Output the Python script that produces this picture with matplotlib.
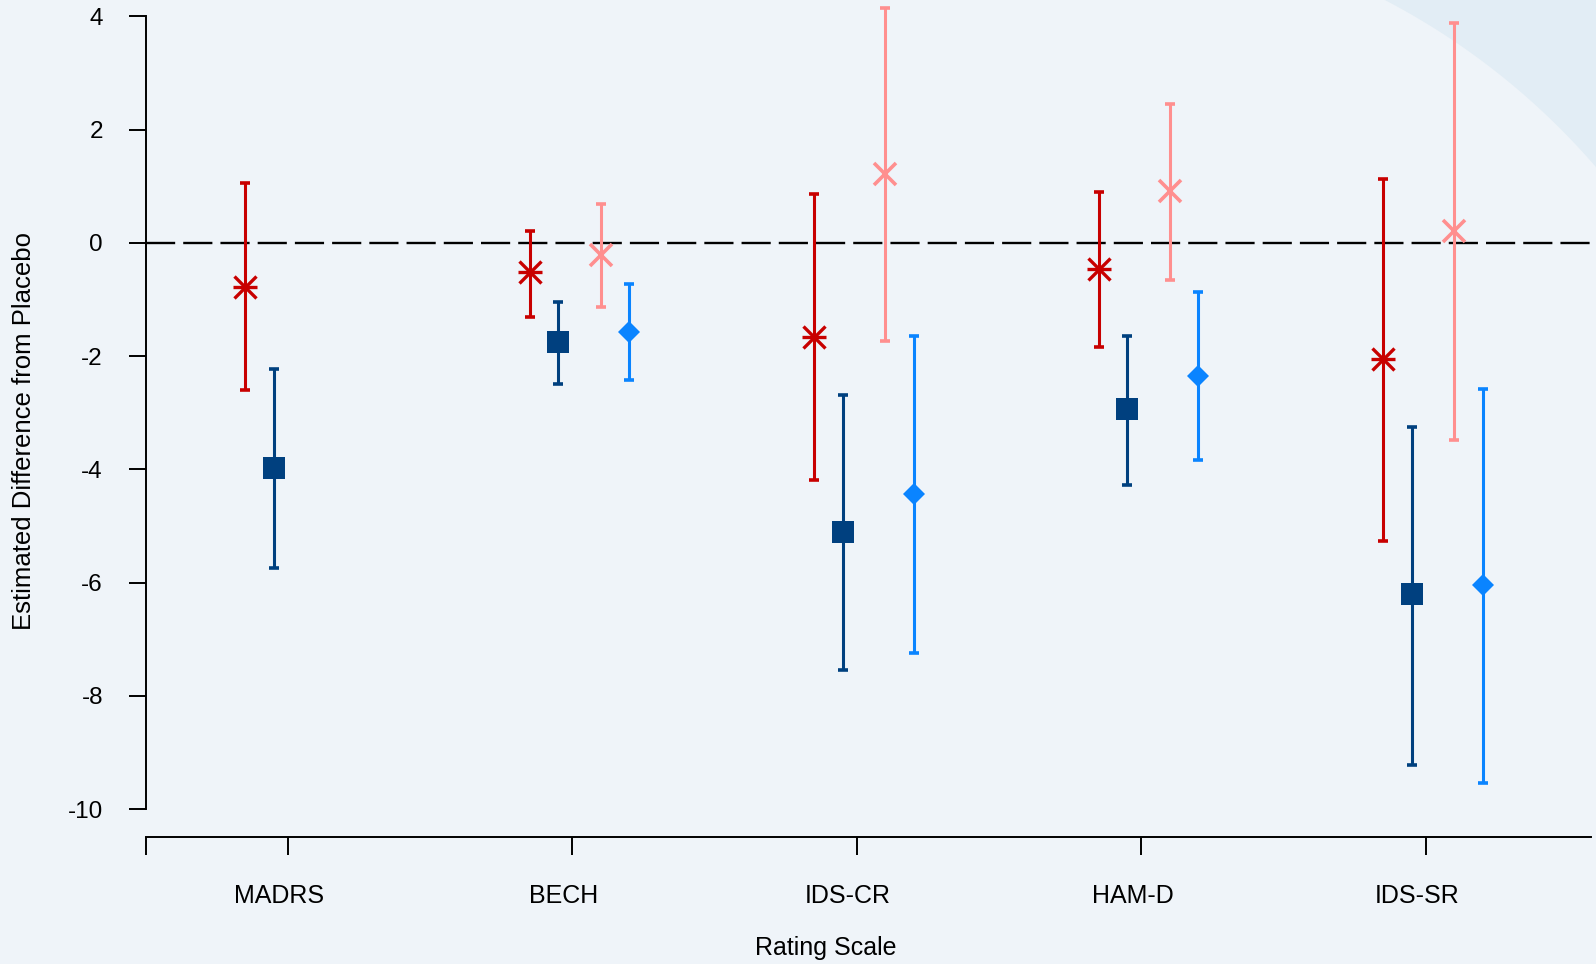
import numpy as np
import matplotlib
matplotlib.use('Agg')
import matplotlib.pyplot as plt
from matplotlib.patches import Polygon
from matplotlib.transforms import ScaledTranslation

plt.rcParams['font.family'] = ['Liberation Sans', 'DejaVu Sans']
plt.rcParams['lines.scale_dashes'] = False

scales = ['MADRS', 'BECH', 'IDS-CR', 'HAM-D', 'IDS-SR']

# estimate and confidence limits per rating scale, four comparisons
# (nan where the comparison was not reported for that scale)
a_est = [-0.78, -0.51, -1.66, -0.46, -2.06]
a_lo = [-2.60, -1.31, -4.19, -1.84, -5.26]
a_hi = [1.05, 0.21, 0.87, 0.89, 1.12]

b_est = [-3.97, -1.75, -5.11, -2.94, -6.21]
b_lo = [-5.75, -2.49, -7.55, -4.27, -9.22]
b_hi = [-2.23, -1.05, -2.68, -1.65, -3.26]

c_est = [np.nan, -0.22, 1.21, 0.92, 0.21]
c_lo = [np.nan, -1.13, -1.73, -0.66, -3.49]
c_hi = [np.nan, 0.68, 4.14, 2.45, 3.89]

d_est = [np.nan, -1.57, -4.44, -2.35, -6.05]
d_lo = [np.nan, -2.43, -7.25, -3.83, -9.54]
d_hi = [np.nan, -0.72, -1.64, -0.87, -2.58]

W, H = 1596, 964
bg = '#EFF4F9'
fig = plt.figure(figsize=(W / 100, H / 100), dpi=100, facecolor=bg)

# lighter/darker swoosh in the top right corner
cx, cy, r = 1054, 635, 716
th = np.radians(np.linspace(38, 64, 80))
arc = [((cx + r * np.cos(t)) / W, 1 - (cy - r * np.sin(t)) / H) for t in th]
corner = Polygon(arc + [(1.01, 1.01)], closed=True, transform=fig.transFigure,
                 facecolor='#E2EDF5', edgecolor='none', zorder=-5)
fig.patches.append(corner)

ax = fig.add_axes([145.6 / W, (H - 809) / H, (1591 - 145.6) / W, 809 / H])
ax.patch.set_visible(False)
ax.set_xlim(0.5, 5.58)
ax.set_ylim(-10, 4 + 16.3 / 56.62)

x = np.arange(1, len(scales) + 1)
series = [
    (a_est, a_lo, a_hi, -0.15, '#C80000'),
    (b_est, b_lo, b_hi, -0.05, '#00407F'),
    (c_est, c_lo, c_hi, 0.10, '#FF8F8F'),
    (d_est, d_lo, d_hi, 0.20, '#0A84FF'),
]

ax.axhline(0, color='black', lw=1.7, dashes=(21, 5.8), zorder=1)

for i, (est, lo, hi, off, col) in enumerate(series):
    est, lo, hi = np.array(est), np.array(lo), np.array(hi)
    m = ~np.isnan(est)
    xs = x[m] + off
    ax.errorbar(xs, est[m], yerr=[est[m] - lo[m], hi[m] - est[m]], fmt='none',
                ecolor=col, elinewidth=2.2, capsize=3.5, capthick=2.6,
                zorder=3, clip_on=False)
    if i == 0:
        # asterisk = x + plus
        ax.plot(xs, est[m], 'x', ms=16, mew=2.4, color=col, zorder=4, clip_on=False)
        ax.plot(xs, est[m], '_', ms=17, mew=2.4, color=col, zorder=4, clip_on=False)
    elif i == 1:
        ax.plot(xs, est[m], 's', ms=15.5, color=col, mew=0, zorder=4)
    elif i == 2:
        ax.plot(xs, est[m], 'x', ms=16.5, mew=2.6, color=col, zorder=4, clip_on=False)
    else:
        ax.plot(xs, est[m], 'D', ms=11, color=col, mew=0, zorder=4)

for s in ['top', 'right']:
    ax.spines[s].set_visible(False)
ax.spines['left'].set_bounds(-10, 4)
ax.spines['left'].set_linewidth(1.4)
ax.spines['bottom'].set_linewidth(1.4)
ax.spines['bottom'].set_position(('outward', 27.7 * 0.72))

ax.set_yticks(np.arange(-10, 5, 2))
ax.set_yticklabels([str(v) for v in range(-10, 5, 2)])
ax.tick_params(axis='y', length=12.2, width=1.4, pad=18.5, labelsize=17.5)

ax.set_xticks([0.5] + list(x))
ax.set_xticklabels([''] + scales)
ax.tick_params(axis='x', length=12.7, width=1.4, pad=21, labelsize=18)
shift = ScaledTranslation(-9 / 100, 0, fig.dpi_scale_trans)
for lab in ax.get_xticklabels():
    lab.set_transform(lab.get_transform() + shift)

fig.text(24 / W, 1 - 431.5 / H, 'Estimated Difference from Placebo',
         rotation=90, ha='center', va='center', fontsize=18.5)
fig.text(825.5 / W, 1 - 948 / H, 'Rating Scale', ha='center', va='center',
         fontsize=18)

fig.savefig('out.png', dpi=100, facecolor=bg)
